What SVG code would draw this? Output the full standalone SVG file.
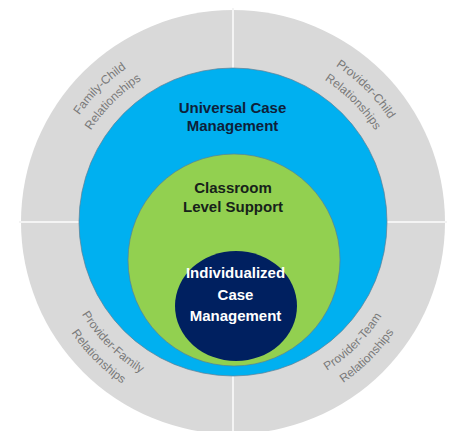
<svg xmlns="http://www.w3.org/2000/svg" width="452" height="431" viewBox="0 0 452 431">
  <style>
    .ring-label { font-family: "Liberation Sans", Arial, sans-serif; font-size: 12px; fill: #7a7a7a; }
    .level { font-family: "Liberation Sans", Arial, sans-serif; font-weight: bold; font-size: 15px; text-anchor: middle; }
    .divider { stroke: #f4f4f4; stroke-width: 2; }
    .ring { stroke: #5a7f95; stroke-width: 1; stroke-opacity: 0.7; }
  </style>
  <defs>
    <!-- arcs around the centre (233,222) used to set the ring labels -->
    <path id="tl-outer" d="M 46 222 A 187 187 0 0 1 233 35"/>
    <path id="tl-inner" d="M 64 222 A 169 169 0 0 1 233 53"/>
    <path id="tr-outer" d="M 233 35 A 187 187 0 0 1 420 222"/>
    <path id="tr-inner" d="M 233 53 A 169 169 0 0 1 402 222"/>
    <path id="bl-inner" d="M 56 222 A 177 177 0 0 0 233 399"/>
    <path id="bl-outer" d="M 37 222 A 196 196 0 0 0 233 418"/>
    <path id="br-inner" d="M 233 398 A 176 176 0 0 0 409 222"/>
    <path id="br-outer" d="M 233 417 A 195 195 0 0 0 428 222"/>
  </defs>

  <rect width="452" height="431" fill="#ffffff"/>

  <!-- outer relationships ring -->
  <g id="relationships-ring">
    <circle cx="233" cy="222" r="212" fill="#d9d9d9"/>
  </g>

  <!-- quadrant dividers -->
  <g id="connectors">
    <line class="divider" x1="233" y1="8" x2="233" y2="436"/>
    <line class="divider" x1="19" y1="222" x2="447" y2="222"/>
  </g>

  <g id="family-child">
    <text class="ring-label"><textPath href="#tl-outer" startOffset="50%" text-anchor="middle">Family-Child</textPath></text>
    <text class="ring-label"><textPath href="#tl-inner" startOffset="50%" text-anchor="middle">Relationships</textPath></text>
  </g>
  <g id="provider-child">
    <text class="ring-label"><textPath href="#tr-outer" startOffset="50%" text-anchor="middle">Provider-Child</textPath></text>
    <text class="ring-label"><textPath href="#tr-inner" startOffset="50%" text-anchor="middle">Relationships</textPath></text>
  </g>
  <g id="provider-family">
    <text class="ring-label"><textPath href="#bl-inner" startOffset="50%" text-anchor="middle">Provider-Family</textPath></text>
    <text class="ring-label"><textPath href="#bl-outer" startOffset="50%" text-anchor="middle">Relationships</textPath></text>
  </g>
  <g id="provider-team">
    <text class="ring-label"><textPath href="#br-inner" startOffset="50%" text-anchor="middle">Provider-Team</textPath></text>
    <text class="ring-label"><textPath href="#br-outer" startOffset="50%" text-anchor="middle">Relationships</textPath></text>
  </g>

  <g id="universal-case-management">
    <circle class="ring" cx="233" cy="222" r="154" fill="#00b0f0"/>
    <text class="level" fill="#0e1f3a" x="232.5" y="113">Universal Case</text>
    <text class="level" fill="#0e1f3a" x="232.5" y="131">Management</text>
  </g>

  <g id="classroom-level-support">
    <circle class="ring" cx="234" cy="260" r="106" fill="#92d050"/>
    <text class="level" fill="#17221a" x="233" y="193">Classroom</text>
    <text class="level" fill="#17221a" x="233" y="212">Level Support</text>
  </g>

  <g id="individualized-case-management">
    <ellipse cx="236" cy="306" rx="61" ry="55" fill="#002060"/>
    <text class="level" fill="#ffffff" x="235.5" y="278">Individualized</text>
    <text class="level" fill="#ffffff" x="235.5" y="300">Case</text>
    <text class="level" fill="#ffffff" x="235.5" y="321">Management</text>
  </g>
</svg>
